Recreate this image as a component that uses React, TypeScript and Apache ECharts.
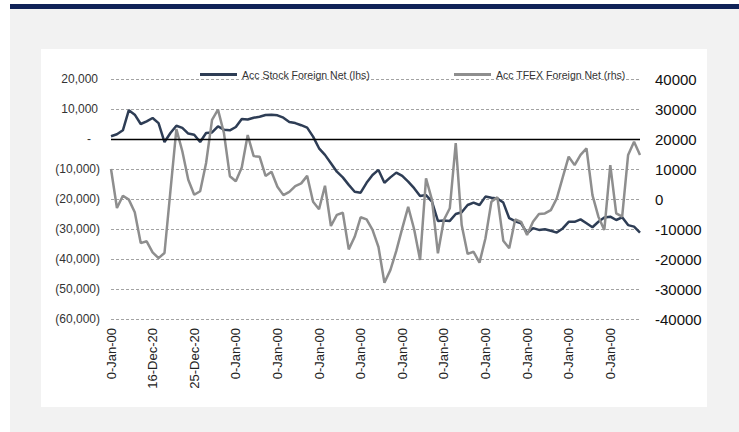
import React, { useEffect, useRef } from "react";
import * as echarts from "echarts";

const stockName = "Acc Stock Foreign Net (lhs)";
const tfexName = "Acc TFEX Foreign Net (rhs)";

const tickLabels = [
  "0-Jan-00", "16-Dec-20", "25-Dec-20", "0-Jan-00", "0-Jan-00", "0-Jan-00", "0-Jan-00",
  "0-Jan-00", "0-Jan-00", "0-Jan-00", "0-Jan-00", "0-Jan-00", "0-Jan-00",
];
const labelEvery = 7;

const stockValues = [
  900, 1600, 2900, 9600, 8100, 5000, 5900, 7000, 5300, -1000,
  2000, 4400, 3700, 1800, 1400, -1000, 2000, 2200, 4200, 3100,
  2900, 4000, 6700, 6500, 7100, 7400, 8000, 8100, 7900, 7100,
  5700, 5300, 4600, 3800, 800, -3100, -5300, -8100, -10900, -12800,
  -15300, -17600, -17900, -14600, -12000, -10300, -14600, -12800, -11200, -12300,
  -14200, -16400, -19000, -18700, -20900, -27300, -27200, -27300, -25000, -24400,
  -22000, -21200, -22000, -19200, -19600, -19800, -21200, -26400, -27400, -28100,
  -31400, -29700, -30300, -30100, -30600, -31200, -29800, -27600, -27600, -26800,
  -28100, -29400, -27600, -26200, -25900, -27000, -26100, -28700, -29200, -31200,
];

const tfexValues = [
  10000, -3000, 1100, -200, -4400, -14700, -14100, -17800, -19700, -18000,
  2700, 23300, 15900, 6400, 1400, 2600, 12000, 26400, 29800, 22000,
  7600, 5900, 10500, 21300, 14300, 14100, 7700, 9100, 4100, 1300,
  2400, 4300, 5200, 7700, -900, -3400, 4400, -9000, -5300, -4600,
  -16800, -12600, -6100, -6800, -10300, -16000, -27900, -23700, -17300, -9800,
  -2600, -10100, -20300, 6900, -300, -18100, -7000, -3100, 18600, -8700,
  -18300, -17600, -21200, -13100, -900, 600, -13900, -16400, -6800, -7600,
  -12000, -7600, -5000, -4800, -3700, 200, 7200, 14100, 11300, 14700,
  16900, 1300, -5900, -10300, 11300, -4800, -5900, 14700, 19100, 14700,
];

const categories = stockValues.map((_, i) =>
  i % labelEvery === 0 ? tickLabels[i / labelEvery] ?? "" : ""
);

const leftMin = -60000, leftMax = 20000;
const rightMin = -40000, rightMax = 40000;
const step = 10000;

function fmtLeft(v: number) {
  if (v === 0) return "{dash|-}";
  const s = Math.abs(v).toLocaleString("en-US");
  return v < 0 ? "(" + s + ")" : "{pos|" + s + "}";
}

export default function App() {
  const ref = useRef<HTMLDivElement>(null);
  useEffect(() => {
    if (!ref.current) return;
    const chart = echarts.init(ref.current, null, { renderer: "svg" });
    const font = "Liberation Sans, Arial, sans-serif";
    chart.setOption({
      animation: false,
      textStyle: { fontFamily: font },
      grid: { left: 111, right: 99, top: 79, bottom: 113 },
      legend: [
        {
          data: [stockName], left: 195, top: 64, icon: "rect",
          itemWidth: 37, itemHeight: 3, itemGap: 4,
          textStyle: { fontSize: 10.5, color: "#333", fontFamily: font },
        },
        {
          data: [tfexName], left: 449, top: 64, icon: "rect",
          itemWidth: 37, itemHeight: 3, itemGap: 4,
          textStyle: { fontSize: 10.5, color: "#333", fontFamily: font },
        },
      ],
      xAxis: {
        type: "category",
        data: categories,
        boundaryGap: false,
        axisLine: { show: false },
        axisTick: { show: false },
        splitLine: { show: false },
        axisLabel: {
          interval: labelEvery - 1,
          rotate: 90,
          fontSize: 13,
          color: "#222",
          margin: 9,
          fontFamily: font,
        },
      },
      yAxis: [
        {
          type: "value", min: leftMin, max: leftMax, interval: step,
          axisLine: { show: false }, axisTick: { show: false },
          splitLine: { show: true, lineStyle: { color: "#a3a3a3", type: [3, 2], width: 1 } },
          axisLabel: {
            formatter: fmtLeft, fontSize: 12, color: "#333", margin: 11, fontFamily: font,
            rich: {
              dash: { padding: [0, 9, 0, 0], fontSize: 12, color: "#333" },
              pos: { padding: [0, 2, 0, 0], fontSize: 12, color: "#333" },
            },
          },
        },
        {
          type: "value", min: rightMin, max: rightMax, interval: step,
          axisLine: { show: false }, axisTick: { show: false },
          splitLine: { show: false },
          axisLabel: {
            formatter: (v: number) => String(v),
            fontSize: 15, color: "#111", margin: 15, fontFamily: font,
          },
        },
      ],
      series: [
        {
          name: stockName, type: "line", yAxisIndex: 0, data: stockValues,
          symbol: "none", itemStyle: { color: "#2e3d55" },
          lineStyle: { color: "#2e3d55", width: 2.5 },
          markLine: {
            silent: true, symbol: "none", label: { show: false },
            lineStyle: { color: "#000", type: "solid", width: 1.3 },
            data: [{ yAxis: 0 }],
          },
          z: 2,
        },
        {
          name: tfexName, type: "line", yAxisIndex: 1, data: tfexValues,
          symbol: "none", itemStyle: { color: "#8e8e8e" },
          lineStyle: { color: "#8e8e8e", width: 2.5 },
          z: 3,
        },
      ],
    });
    return () => chart.dispose();
  }, []);

  return (
    <div style={{ position: "absolute", left: 0, top: 0, width: 739, height: 432, background: "#fff", overflow: "hidden" }}>
      <div style={{ position: "absolute", left: 10, top: 9, width: 729, height: 423, background: "#f2f2f2" }} />
      <div style={{ position: "absolute", left: 10, top: 4, width: 729, height: 5, background: "#0f2257" }} />
      <div style={{ position: "absolute", left: 41, top: 49, width: 666, height: 358, background: "#fff" }} />
      <div ref={ref} style={{ position: "absolute", left: 0, top: 0, width: 739, height: 432 }} />
    </div>
  );
}
